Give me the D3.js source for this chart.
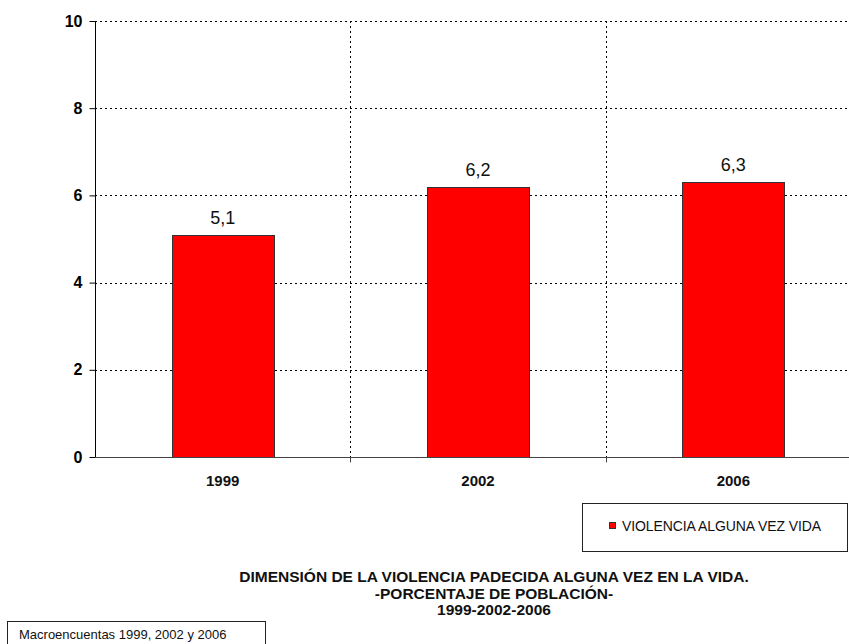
<!DOCTYPE html>
<html>
<head>
<meta charset="utf-8">
<script src="https://cdn.jsdelivr.net/npm/d3@7"></script>
<style>
  body { margin: 0; background: #fff; }
  svg { display: block; font-family: "Liberation Sans", Arial, sans-serif; }
</style>
</head>
<body>
<svg id="chart" width="849" height="644"></svg>
<script>
var years = ["1999", "2002", "2006"];
var values = [5.1, 6.2, 6.3];
var yTicks = [0, 2, 4, 6, 8, 10];
var seriesName = "VIOLENCIA ALGUNA VEZ VIDA";
var titleLines = ["DIMENSIÓN DE LA VIOLENCIA PADECIDA ALGUNA VEZ EN LA VIDA.", "-PORCENTAJE DE POBLACIÓN-", "1999-2002-2006"];
var sourceText = "Macroencuentas 1999, 2002 y 2006";

var svg = d3.select("#chart");
var pLeft = 95, pRight = 861, pTop = 21, pBottom = 457;

var x = d3.scaleBand().domain(years).range([pLeft, pRight]);
var y = d3.scaleLinear().domain([0, 10]).range([pBottom, pTop]);
var fmt = function(v) { return String(v).replace(".", ","); };

// horizontal grid
svg.append("g").selectAll("line").data(yTicks.filter(function(d){ return d > 0; }))
  .enter().append("line")
  .attr("x1", pLeft).attr("x2", pRight)
  .attr("y1", function(d){ return Math.round(y(d)) + 0.5; }).attr("y2", function(d){ return Math.round(y(d)) + 0.5; })
  .attr("stroke", "#000").attr("stroke-width", 1).attr("stroke-dasharray", "2,3");

// vertical grid at category boundaries
svg.append("g").selectAll("line").data(years.slice(1))
  .enter().append("line")
  .attr("x1", function(d){ return Math.round(x(d)) + 0.5; }).attr("x2", function(d){ return Math.round(x(d)) + 0.5; })
  .attr("y1", pTop).attr("y2", pBottom)
  .attr("stroke", "#000").attr("stroke-width", 1).attr("stroke-dasharray", "2,3");

// bars
var bw = x.bandwidth() * 0.4;
svg.append("g").selectAll("rect").data(values)
  .enter().append("rect")
  .attr("x", function(d, i){ return Math.round(x(years[i]) + (x.bandwidth() - bw) / 2) + 0.5; })
  .attr("y", function(d){ return Math.round(y(d)) + 0.5; })
  .attr("width", Math.round(bw))
  .attr("height", function(d){ return Math.round(pBottom - y(d)); })
  .attr("fill", "#ff0000").attr("stroke", "#333").attr("stroke-width", 1);

// value labels
svg.append("g").selectAll("text").data(values)
  .enter().append("text")
  .attr("x", function(d, i){ return x(years[i]) + x.bandwidth() / 2; })
  .attr("y", function(d){ return y(d) - 11; })
  .attr("text-anchor", "middle")
  .attr("font-size", 18).attr("fill", "#111")
  .text(fmt);

// y axis
var yAxis = svg.append("g").attr("transform", "translate(" + (pLeft + 0.5) + ",0)")
  .call(d3.axisLeft(y).tickValues(yTicks).tickSize(6).tickPadding(7).tickFormat(d3.format("d")));
yAxis.select(".domain").attr("stroke", "#000").attr("d", "M0," + pTop + "V" + (pBottom + 0.5));
yAxis.selectAll(".tick line").attr("stroke", "#000");
yAxis.selectAll(".tick text").attr("font-size", 16).attr("font-weight", "bold").attr("fill", "#000")
  .attr("font-family", "Liberation Sans, Arial, sans-serif");

// x axis
var xAxis = svg.append("g").attr("transform", "translate(0," + (pBottom + 0.5) + ")");
xAxis.append("line").attr("x1", pLeft).attr("x2", pRight).attr("stroke", "#444");
xAxis.selectAll(".tk").data(x.domain().slice(1))
  .enter().append("line")
  .attr("x1", function(d){ return Math.round(x(d)) + 0.5; }).attr("x2", function(d){ return Math.round(x(d)) + 0.5; })
  .attr("y1", 0).attr("y2", 5).attr("stroke", "#444");
xAxis.selectAll("text").data(years)
  .enter().append("text")
  .attr("x", function(d){ return x(d) + x.bandwidth() / 2; })
  .attr("y", 28)
  .attr("text-anchor", "middle").attr("font-size", 15).attr("font-weight", "bold").attr("fill", "#111")
  .text(function(d){ return d; });

// legend
var lg = svg.append("g");
lg.append("rect").attr("x", 582.5).attr("y", 503.5).attr("width", 265).attr("height", 48)
  .attr("fill", "#fff").attr("stroke", "#222");
lg.append("rect").attr("x", 609.5).attr("y", 522.5).attr("width", 6).attr("height", 6)
  .attr("fill", "#ff0000").attr("stroke", "#333");
lg.append("text").attr("x", 622).attr("y", 531).attr("font-size", 14).attr("fill", "#111")
  .attr("letter-spacing", -0.1).text(seriesName);

// title
svg.append("g").selectAll("text").data(titleLines)
  .enter().append("text")
  .attr("x", 494).attr("y", function(d, i){ return 582 + i * 16.5; })
  .attr("text-anchor", "middle").attr("font-size", 15.5).attr("font-weight", "bold").attr("fill", "#111")
  .text(function(d){ return d; });

// source box
svg.append("rect").attr("x", 7.5).attr("y", 621.5).attr("width", 258).attr("height", 26)
  .attr("fill", "#fff").attr("stroke", "#222");
svg.append("text").attr("x", 19).attr("y", 639).attr("font-size", 13).attr("fill", "#111").text(sourceText);
</script>
</body>
</html>
